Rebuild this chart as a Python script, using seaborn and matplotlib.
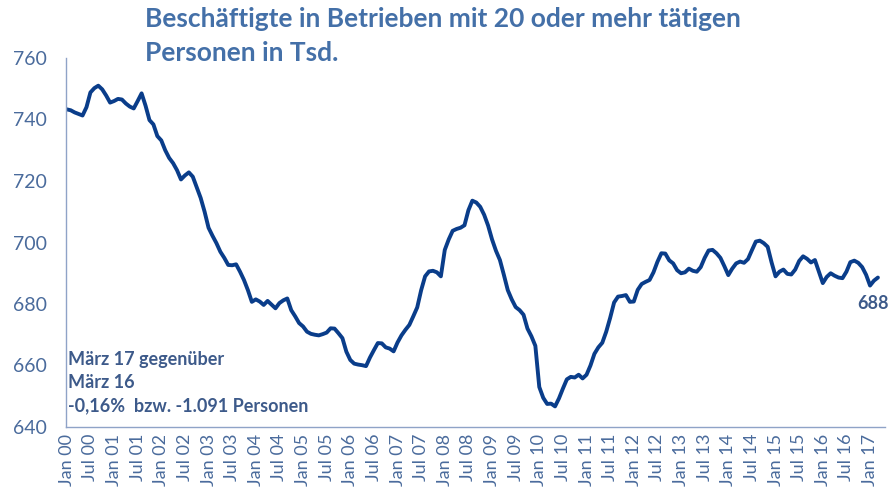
import matplotlib
matplotlib.use("Agg")
import matplotlib.pyplot as plt
import seaborn as sns
import pandas as pd

# Beschäftigte (Tsd.), monthly Jan 2000 - Mar 2017, one row per year
values = [
    743.3, 743.0, 742.3, 741.8, 741.3, 744.0, 748.8, 750.2, 751.0, 749.8, 747.8, 745.5,  # 2000
    746.0, 746.7, 746.5, 745.2, 744.2, 743.6, 746.0, 748.5, 744.5, 739.8, 738.4, 734.6,  # 2001
    733.2, 730.0, 727.5, 725.8, 723.5, 720.5, 721.8, 722.8, 721.4, 718.0, 714.5, 710.0,  # 2002
    704.8, 702.2, 699.8, 697.0, 695.0, 692.7, 692.6, 692.9, 690.5, 687.8, 684.5, 680.7,  # 2003
    681.5, 680.8, 679.7, 681.0, 679.8, 678.6, 680.3, 681.2, 681.8, 678.0, 676.0, 673.8,  # 2004
    672.7, 671.0, 670.3, 670.0, 669.8, 670.2, 670.7, 672.1, 672.0, 670.5, 668.9, 664.5,  # 2005
    661.8, 660.6, 660.3, 660.1, 659.8, 662.6, 665.0, 667.3, 667.2, 665.9, 665.5, 664.6,  # 2006
    667.5, 669.8, 671.6, 673.2, 676.0, 678.9, 684.5, 689.0, 690.6, 690.8, 690.3, 689.0,  # 2007
    697.6, 701.0, 703.8, 704.4, 704.8, 705.6, 710.5, 713.6, 713.0, 711.6, 709.0, 705.5,  # 2008
    701.0, 697.3, 694.3, 689.5, 684.5, 681.5, 679.0, 678.0, 676.5, 672.0, 669.5, 666.4,  # 2009
    653.0, 649.5, 647.5, 647.6, 646.7, 649.3, 652.5, 655.5, 656.3, 656.1, 657.0, 655.8,  # 2010
    657.0, 660.0, 663.8, 665.9, 667.4, 671.0, 675.5, 680.5, 682.4, 682.6, 682.9, 680.7,  # 2011
    680.8, 684.6, 686.5, 687.2, 687.8, 690.3, 693.7, 696.5, 696.4, 694.2, 693.2, 691.0,  # 2012
    690.0, 690.3, 691.5, 690.8, 690.5, 692.0, 695.0, 697.4, 697.6, 696.5, 695.0, 692.3,  # 2013
    689.4, 691.5, 693.2, 693.8, 693.4, 694.6, 697.5, 700.3, 700.6, 699.8, 698.6, 693.5,  # 2014
    689.0, 690.5, 691.2, 689.8, 689.6, 691.2, 694.0, 695.5, 694.7, 693.5, 694.3, 690.5,  # 2015
    686.8, 688.8, 690.0, 689.2, 688.6, 688.4, 690.5, 693.6, 694.1, 693.4, 692.0, 689.5,  # 2016
    686.0, 687.6, 688.6,                                                                  # 2017
]
tick_labels = ["Jan 00", "Jul 00", "Jan 01", "Jul 01", "Jan 02", "Jul 02", "Jan 03", "Jul 03",
               "Jan 04", "Jul 04", "Jan 05", "Jul 05", "Jan 06", "Jul 06", "Jan 07", "Jul 07",
               "Jan 08", "Jul 08", "Jan 09", "Jul 09", "Jan 10", "Jul 10", "Jan 11", "Jul 11",
               "Jan 12", "Jul 12", "Jan 13", "Jul 13", "Jan 14", "Jul 14", "Jan 15", "Jul 15",
               "Jan 16", "Jul 16", "Jan 17"]
last_label = "688"
title = "Beschäftigte in Betrieben mit 20 oder mehr tätigen\nPersonen in Tsd."
note = "März 17 gegenüber\nMärz 16\n-0,16%  bzw. -1.091 Personen"

line_color = "#0A3D8A"
text_color = "#3D5A8A"
tick_color = "#4A6B9C"
title_color = "#4470A8"
spine_color = "#8FA3C7"

df = pd.DataFrame({"month": range(len(values)), "value": values})

sns.set_style("white")
plt.rcParams["font.family"] = ["Lato", "DejaVu Sans"]

fig = plt.figure(figsize=(8.88, 4.97), dpi=100)
ax = fig.add_axes([66 / 888, 1 - 427 / 497, 819 / 888, 369 / 497])

sns.lineplot(data=df, x="month", y="value", color=line_color, linewidth=2.8, ax=ax)

ax.set_xlim(-0.2, 207.8)
ax.set_ylim(640, 760)
ax.set_yticks(range(640, 761, 20))
ax.set_xticks(range(0, len(values), 6))
ax.set_xticklabels(tick_labels, rotation=90)
ax.tick_params(axis="y", labelsize=14, colors=tick_color, length=0, pad=14)
ax.tick_params(axis="x", labelsize=13, colors=tick_color, length=0, pad=5)
ax.set_xlabel("")
ax.set_ylabel("")

for side in ["top", "right"]:
    ax.spines[side].set_visible(False)
for side in ["left", "bottom"]:
    ax.spines[side].set_color(spine_color)
    ax.spines[side].set_linewidth(1.0)

# Last value label
ax.annotate(last_label, xy=(len(values) - 1, values[-1]), xytext=(-5, -17),
            textcoords="offset pixels", ha="center", va="top",
            fontsize=13, fontweight="bold", color=text_color)

# Note in the lower left
fig.text(68 / 888, 1 - 351 / 497, note, ha="left", va="top", fontsize=13,
         fontweight="bold", color=text_color, linespacing=1.45)

fig.text(145 / 888, 1 - 7 / 497, title, ha="left", va="top", fontsize=19,
         fontweight="bold", color=title_color, linespacing=1.5)

plt.savefig("out.png", dpi=100)
